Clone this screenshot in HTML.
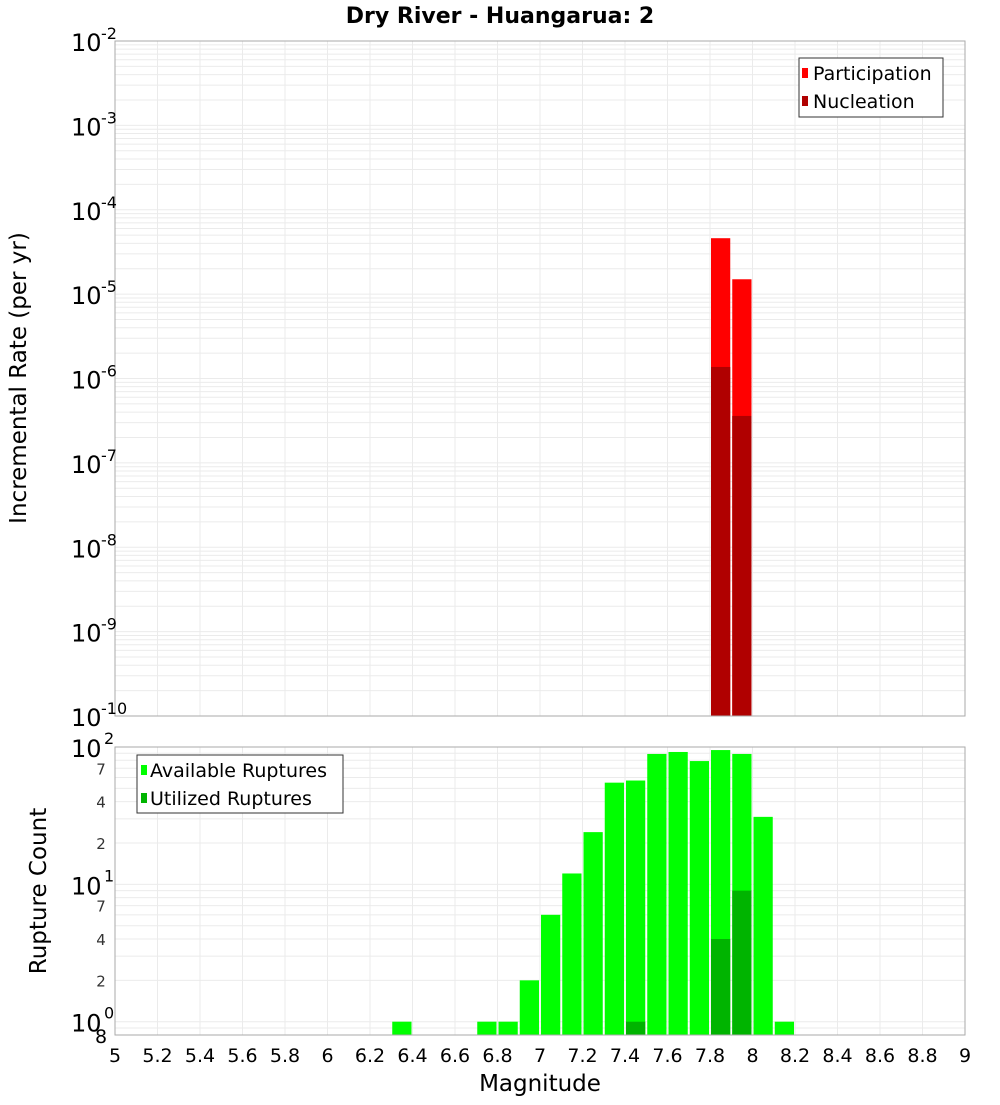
<!DOCTYPE html>
<html><head><meta charset="utf-8"><style>
body{margin:0;background:#fff;width:1000px;height:1100px;overflow:hidden;font-family:"Liberation Sans","DejaVu Sans",sans-serif}
svg text{font-family:"DejaVu Sans","Liberation Sans",sans-serif}
</style></head><body>
<svg id="chart" width="1000" height="1100" xmlns="http://www.w3.org/2000/svg"></svg>
<script>
const topBins = [7.85, 7.95];
const participation = [4.6e-5, 1.5e-5];
const nucleation = [1.37e-6, 3.6e-7];
const botBins = [6.35,6.75,6.85,6.95,7.05,7.15,7.25,7.35,7.45,7.55,7.65,7.75,7.85,7.95,8.05,8.15];
const available = [1,1,1,2,6,12,24,55,57,89,92,79,95,89,31,1];
const utilBins = [7.45,7.85,7.95];
const utilized = [1,4,9];
const xTicks = [5,5.2,5.4,5.6,5.8,6,6.2,6.4,6.6,6.8,7,7.2,7.4,7.6,7.8,8,8.2,8.4,8.6,8.8,9];
const topExps = [-2,-3,-4,-5,-6,-7,-8,-9,-10];
const botExps = [2,1,0];
const botMinor = [7,4,2];

const NS="http://www.w3.org/2000/svg";
const svg=document.getElementById('chart');
function el(tag,attrs,parent,txt){const e=document.createElementNS(NS,tag);for(const k in attrs)e.setAttribute(k,attrs[k]);if(txt!==undefined)e.textContent=txt;(parent||svg).appendChild(e);return e;}
const X0=115,X1=965;
const x=m=>X0+(m-5)/4*(X1-X0);
const TY0=41,TY1=716;
const yT=v=>TY0+(-2-Math.log10(v))/8*(TY1-TY0);
const BY0=747,BY1=1035;
const bLo=Math.log10(0.8);
const yB=v=>BY0+(2-Math.log10(v))/(2-bLo)*(BY1-BY0);

let t=el('text',{x:500,y:23,'text-anchor':'middle','font-size':22,'font-weight':'bold'},svg,'Dry River - Huangarua: 2');


let g=el('g',{});
for(let e=-10;e<-2;e++)for(let k=1;k<10;k++){const yy=yT(k*Math.pow(10,e));el('line',{x1:X0,x2:X1,y1:yy,y2:yy,stroke:'#ebebeb','stroke-width':1},g);}
xTicks.forEach(m=>el('line',{x1:x(m),x2:x(m),y1:TY0,y2:TY1,stroke:'#ebebeb'},g));
let g2=el('g',{});
for(let e=-1;e<2;e++)for(let k=1;k<10;k++){const v=k*Math.pow(10,e);if(v<0.8)continue;const yy=yB(v);el('line',{x1:X0,x2:X1,y1:yy,y2:yy,stroke:'#ebebeb'},g2);}
xTicks.forEach(m=>el('line',{x1:x(m),x2:x(m),y1:BY0,y2:BY1,stroke:'#ebebeb'},g2));

const bw=0.1;
topBins.forEach((m,i)=>{
 let r=el('rect',{x:x(m-bw/2)+1,y:yT(participation[i]),width:x(m+bw/2)-x(m-bw/2)-2,height:TY1-yT(participation[i]),fill:'#ff0000'});
 
 let r2=el('rect',{x:x(m-bw/2)+1,y:yT(nucleation[i]),width:x(m+bw/2)-x(m-bw/2)-2,height:TY1-yT(nucleation[i]),fill:'#b00000'});
 
});
botBins.forEach((m,i)=>{
 let r=el('rect',{x:x(m-bw/2)+1,y:yB(available[i]),width:x(m+bw/2)-x(m-bw/2)-2,height:BY1-yB(available[i]),fill:'#00ff00'});
 
});
utilBins.forEach((m,i)=>{
 let r=el('rect',{x:x(m-bw/2)+1,y:yB(utilized[i]),width:x(m+bw/2)-x(m-bw/2)-2,height:BY1-yB(utilized[i]),fill:'#00b400'});
 
});
el('rect',{x:X0,y:TY0,width:X1-X0,height:TY1-TY0,fill:'none',stroke:'#aaa'});
el('rect',{x:X0,y:BY0,width:X1-X0,height:BY1-BY0,fill:'none',stroke:'#aaa'});

topExps.forEach(e=>{
 const yy=yT(Math.pow(10,e));
 let tx=el('text',{x:71,y:yy+10,'font-size':24},svg,'10');
 
 el('text',{x:101,y:yy-2,'font-size':16},svg,String(e));
});
botExps.forEach(e=>{
 const yy=yB(Math.pow(10,e));
 let tx=el('text',{x:71,y:yy+10,'font-size':24},svg,'10');
 
 el('text',{x:104,y:yy-3,'font-size':16},svg,String(e));
 if(e>0)botMinor.forEach(k=>{el('text',{x:101,y:yB(k*Math.pow(10,e-1))+6,'text-anchor':'middle','font-size':15,fill:'#333'},svg,String(k));});
});
el('text',{x:101,y:1043,'text-anchor':'middle','font-size':19},svg,'8');
xTicks.forEach(m=>{
 let tx=el('text',{x:x(m),y:1062,'text-anchor':'middle','font-size':19},svg,String(m));
 
});
let xl=el('text',{x:540,y:1091,'text-anchor':'middle','font-size':23},svg,'Magnitude');

let yl=el('text',{x:0,y:0,'text-anchor':'middle','font-size':23,transform:'translate(26,378) rotate(-90)'},svg,'Incremental Rate (per yr)');

let yl2=el('text',{x:0,y:0,'text-anchor':'middle','font-size':23,transform:'translate(46,891) rotate(-90)'},svg,'Rupture Count');


let lg=el('g',{});
el('rect',{x:799,y:58,width:144,height:59,fill:'#fff',stroke:'#333'},lg);
el('rect',{x:802,y:68,width:6,height:10,fill:'#ff0000'},lg);
el('text',{x:813,y:80,'font-size':19},lg,'Participation');
el('rect',{x:802,y:96,width:6,height:10,fill:'#b00000'},lg);
el('text',{x:813,y:108,'font-size':19},lg,'Nucleation');
let lg2=el('g',{});
el('rect',{x:137,y:755,width:206,height:58,fill:'#fff',stroke:'#333'},lg2);
el('rect',{x:141,y:765,width:6,height:10,fill:'#00ff00'},lg2);
el('text',{x:150,y:777,'font-size':19},lg2,'Available Ruptures');
el('rect',{x:141,y:793,width:6,height:10,fill:'#00b400'},lg2);
el('text',{x:150,y:805,'font-size':19},lg2,'Utilized Ruptures');
</script>
</body></html>
